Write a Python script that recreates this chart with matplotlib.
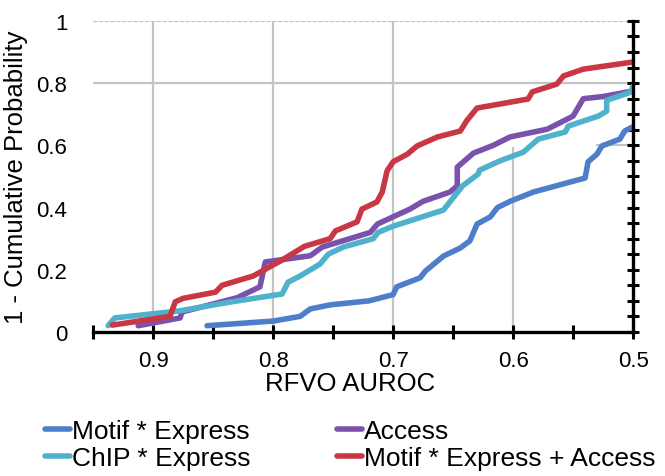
import matplotlib
matplotlib.use("Agg")
import matplotlib.pyplot as plt
from matplotlib.ticker import MultipleLocator, FixedLocator, FuncFormatter

plt.rcParams["font.family"] = ["Liberation Sans", "DejaVu Sans"]

# 1 - CDF curves (x = RFVO AUROC, y = 1 - cumulative prob)
motif_x = [0.855, 0.80, 0.7775, 0.769, 0.7525, 0.72, 0.70, 0.697, 0.6775, 0.673,
           0.658, 0.644, 0.636, 0.63, 0.619, 0.613, 0.6025, 0.583, 0.54, 0.5375,
           0.53, 0.526, 0.511, 0.507, 0.5]
motif_y = [0.02, 0.035, 0.05, 0.074, 0.087, 0.10, 0.12, 0.145, 0.174, 0.196,
           0.244, 0.27, 0.293, 0.347, 0.37, 0.40, 0.42, 0.45, 0.495, 0.547,
           0.572, 0.598, 0.62, 0.646, 0.66]

chip_x = [0.9375, 0.932, 0.8775, 0.836, 0.7925, 0.7875, 0.7775, 0.761, 0.754, 0.7415,
          0.7165, 0.7125, 0.70, 0.658, 0.642, 0.629, 0.628, 0.611, 0.5915, 0.579,
          0.5565, 0.554, 0.529, 0.522, 0.522, 0.5025, 0.5]
chip_y = [0.02, 0.045, 0.068, 0.096, 0.122, 0.16, 0.18, 0.218, 0.25, 0.273,
          0.30, 0.32, 0.34, 0.392, 0.47, 0.508, 0.52, 0.55, 0.578, 0.62,
          0.643, 0.662, 0.694, 0.71, 0.745, 0.77, 0.79]

access_x = [0.9125, 0.8775, 0.876, 0.85, 0.83, 0.811, 0.8065, 0.769, 0.759, 0.719,
            0.713, 0.686, 0.675, 0.6525, 0.6465, 0.6465, 0.633, 0.6165, 0.6025, 0.5715,
            0.55, 0.5415, 0.525, 0.5]
access_y = [0.02, 0.045, 0.064, 0.09, 0.11, 0.145, 0.225, 0.245, 0.273, 0.32,
            0.347, 0.395, 0.42, 0.45, 0.47, 0.53, 0.575, 0.60, 0.627, 0.652,
            0.694, 0.75, 0.757, 0.775]

combo_x = [0.934, 0.886, 0.8815, 0.875, 0.848, 0.8425, 0.8165, 0.794, 0.774, 0.7525,
           0.748, 0.73, 0.726, 0.7135, 0.709, 0.705, 0.70, 0.688, 0.68, 0.663,
           0.644, 0.6385, 0.63, 0.5875, 0.584, 0.5635, 0.558, 0.5415, 0.5]
combo_y = [0.022, 0.05, 0.097, 0.108, 0.128, 0.15, 0.18, 0.228, 0.275, 0.30,
           0.325, 0.354, 0.395, 0.418, 0.45, 0.518, 0.547, 0.572, 0.598, 0.627,
           0.646, 0.68, 0.72, 0.749, 0.772, 0.797, 0.823, 0.845, 0.868]

series = [
    ("Motif * Express", motif_x, motif_y, "#4E7DC9"),
    ("Access", access_x, access_y, "#7A52AB"),
    ("ChIP * Express", chip_x, chip_y, "#4FB1CC"),
    ("Motif * Express + Access", combo_x, combo_y, "#C93744"),
]

fig = plt.figure(figsize=(6.65, 4.77), dpi=100)
ax = fig.add_axes([0.14, 0.302, 0.812, 0.652])

# grid (partial pieces as in the source picture)
grid_kw = dict(color="#c4c4c4", linewidth=1.6, zorder=0)
for gx in [0.9, 0.8, 0.7]:
    ax.axvline(gx, **grid_kw)
ax.axvline(0.6, ymax=0.59, **grid_kw)
ax.axhline(0.8, **grid_kw)
ax.axhline(1.0, linestyle=(0, (2, 0.6)), **grid_kw)
ax.axhline(0.6, xmin=(0.95 - 0.53) / 0.45, **grid_kw)

lines = {}
for name, xs, ys, col in series:
    lines[name], = ax.plot(xs, ys, color=col, linewidth=4.0, label=name, zorder=3,
                           solid_capstyle="round", solid_joinstyle="round")

ax.set_xlim(0.95, 0.5)
ax.set_ylim(0, 1)

ax.spines["top"].set_visible(False)
ax.spines["left"].set_visible(False)
for s in ["bottom", "right"]:
    ax.spines[s].set_linewidth(2.4)
    ax.spines[s].set_zorder(4)

ax.xaxis.set_major_locator(FixedLocator([0.9, 0.8, 0.7, 0.6, 0.5]))
ax.xaxis.set_minor_locator(FixedLocator([0.95, 0.85, 0.75, 0.65, 0.55]))
ax.xaxis.set_major_formatter(FuncFormatter(lambda v, p: f"{v:.1f}"))
ax.yaxis.set_major_locator(MultipleLocator(0.2))
ax.yaxis.set_minor_locator(MultipleLocator(0.05))
ax.yaxis.set_major_formatter(FuncFormatter(
    lambda v, p: f"{round(v, 1):g}"))

ax.tick_params(axis="x", which="both", direction="inout", length=10, width=2.2,
               labelsize=16, pad=8)
ax.tick_params(axis="y", which="both", left=False, right=True, labelleft=True,
               labelright=False, direction="inout", length=9, width=2.2,
               labelsize=16, pad=14)

ax.set_xlabel("RFVO AUROC", fontsize=18.5, labelpad=4)
ax.xaxis.set_label_coords(0.476, -0.125)
ax.set_ylabel("1 - Cumulative Probability", fontsize=18.5, labelpad=6)

# legend fills column-wise, so order entries to read row by row
order = ["Motif * Express", "ChIP * Express", "Access", "Motif * Express + Access"]
fig.legend([lines[n] for n in order], order, loc="upper left",
           bbox_to_anchor=(0.068, 0.12), ncol=2, frameon=False, fontsize=19.0,
           handlelength=0.95, handletextpad=0.05, columnspacing=3.3,
           labelspacing=0.12, borderaxespad=0, borderpad=0)

fig.savefig("out.png", dpi=100)
